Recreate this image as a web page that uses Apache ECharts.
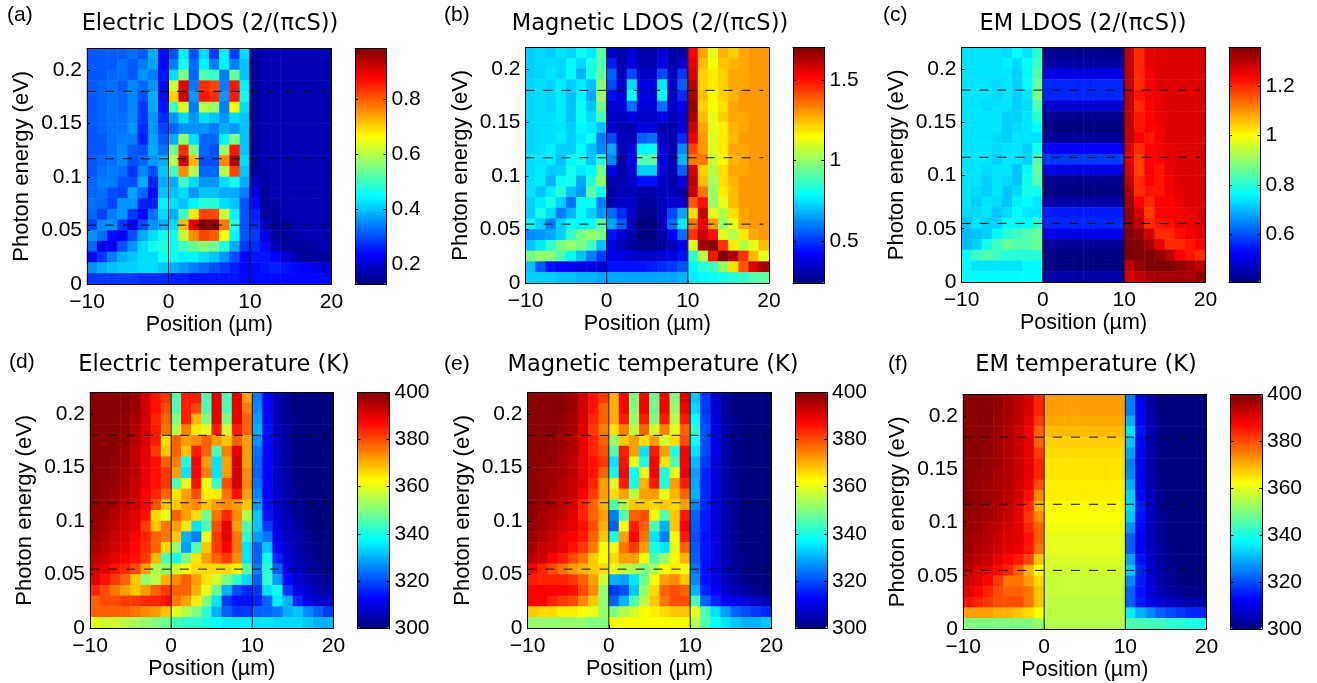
<!DOCTYPE html>
<html><head><meta charset="utf-8">
<script src="https://cdn.jsdelivr.net/npm/echarts@6/dist/echarts.min.js"></script>
<style>html,body{margin:0;background:#fff}#c{width:1317px;height:683px}</style></head>
<body><div id="c"></div>
<script>
const positions=[-9.375,-8.125,-6.875,-5.625,-4.375,-3.125,-1.875,-0.625,0.625,1.875,3.125,4.375,5.625,6.875,8.125,9.375,10.625,11.875,13.125,14.375,15.625,16.875,18.125,19.375];
const energies=[.215,.205,.195,.185,.175,.165,.155,.145,.135,.125,.115,.105,.095,.085,.075,.065,.055,.045,.035,.025,.015,.005];
const xTicks=[-10,0,10,20];
const yTicks=[0,.05,.1,.15,.2];
const interfaces=[0,10];
const resonances=[.055,.117,.18];
const titles=['Electric LDOS (2/(πcS))','Magnetic LDOS (2/(πcS))','EM LDOS (2/(πcS))','Electric temperature (K)','Magnetic temperature (K)','EM temperature (K)'];
const panelTags=['(a)','(b)','(c)','(d)','(e)','(f)'];
const scaleRanges=[[.127,.985],[.2375,1.704],[.406,1.358],[300,400],[300,400],[300,400]];
const scaleTicks=[[.2,.4,.6,.8],[.5,1,1.5],[.6,.8,1,1.2],[300,320,340,360,380,400],[300,320,340,360,380,400],[300,320,340,360,380,400]];
const jet=['#00007f','#0000ff','#007fff','#00ffff','#7fff7f','#ffff00','#ff7f00','#ff0000','#7f0000'];

const electricLdos=[
[.31,.31,.31,.31,.33,.31,.38,.24,.30,.44,.30,.42,.28,.44,.28,.42,.16,.17,.17,.17,.17,.17,.17,.17],
[.31,.31,.31,.33,.31,.34,.37,.24,.34,.47,.32,.44,.34,.44,.34,.40,.15,.17,.17,.17,.17,.17,.17,.17],
[.31,.31,.32,.33,.31,.36,.34,.25,.42,.56,.32,.52,.50,.34,.54,.40,.15,.17,.17,.17,.17,.17,.17,.17],
[.31,.32,.33,.31,.35,.32,.36,.24,.62,.90,.34,.84,.82,.34,.86,.44,.15,.17,.17,.17,.17,.17,.17,.17],
[.31,.32,.33,.32,.35,.30,.38,.24,.70,.92,.36,.86,.84,.36,.86,.46,.15,.17,.17,.17,.17,.17,.17,.17],
[.31,.32,.33,.32,.35,.28,.38,.25,.50,.64,.34,.60,.58,.34,.66,.42,.15,.17,.17,.17,.17,.17,.17,.17],
[.31,.32,.33,.33,.35,.28,.36,.27,.36,.42,.36,.42,.40,.36,.42,.40,.15,.17,.17,.17,.17,.17,.17,.17],
[.31,.32,.33,.33,.36,.27,.36,.29,.32,.36,.36,.36,.34,.38,.36,.40,.15,.17,.17,.17,.17,.17,.17,.17],
[.31,.31,.33,.34,.34,.26,.37,.31,.38,.58,.42,.32,.32,.44,.56,.40,.15,.17,.17,.17,.17,.17,.17,.17],
[.31,.31,.33,.35,.31,.30,.38,.33,.54,.84,.56,.32,.30,.58,.86,.40,.15,.17,.17,.17,.17,.17,.17,.17],
[.31,.32,.33,.35,.30,.32,.36,.38,.60,.92,.72,.30,.30,.76,.94,.42,.15,.17,.17,.17,.17,.17,.17,.17],
[.31,.33,.34,.33,.28,.35,.30,.40,.50,.76,.60,.32,.32,.60,.82,.40,.15,.16,.17,.17,.17,.17,.17,.17],
[.32,.34,.34,.30,.30,.38,.26,.38,.38,.50,.42,.36,.36,.42,.46,.38,.18,.16,.17,.17,.17,.17,.17,.17],
[.32,.33,.30,.29,.37,.32,.24,.40,.40,.42,.36,.40,.40,.38,.38,.34,.21,.15,.17,.17,.17,.17,.17,.17],
[.33,.32,.29,.36,.36,.26,.26,.44,.42,.40,.44,.48,.48,.42,.40,.30,.24,.15,.16,.17,.17,.17,.17,.17],
[.32,.29,.34,.36,.28,.24,.33,.42,.38,.50,.68,.82,.82,.62,.44,.30,.26,.15,.15,.17,.17,.17,.17,.17],
[.29,.35,.36,.28,.22,.30,.36,.38,.42,.72,.90,.98,.98,.78,.48,.30,.27,.18,.15,.15,.17,.17,.17,.17],
[.36,.33,.24,.22,.30,.38,.42,.46,.46,.62,.76,.82,.80,.66,.44,.30,.28,.21,.15,.15,.16,.17,.17,.17],
[.32,.22,.22,.30,.36,.42,.46,.48,.46,.50,.54,.56,.54,.48,.38,.28,.27,.24,.18,.15,.15,.15,.16,.17],
[.24,.28,.34,.38,.40,.42,.42,.46,.46,.44,.44,.42,.40,.36,.30,.24,.25,.25,.23,.20,.17,.15,.15,.15],
[.36,.38,.40,.41,.41,.42,.42,.40,.38,.36,.34,.32,.30,.28,.26,.24,.24,.25,.26,.25,.24,.23,.21,.20],
[.28,.28,.28,.28,.28,.27,.27,.27,.26,.26,.25,.25,.25,.25,.25,.24,.24,.24,.24,.24,.24,.24,.24,.24]];

const magneticLdos=[
[.72,.73,.72,.75,.73,.80,.76,.92,.34,.30,.36,.30,.30,.36,.30,.30,1.52,1.28,1.12,1.26,1.22,1.28,1.30,1.30],
[.72,.73,.74,.73,.78,.73,.82,.90,.46,.30,.38,.30,.30,.38,.30,.36,1.55,1.25,1.15,1.24,1.26,1.28,1.30,1.30],
[.72,.73,.75,.73,.78,.68,.82,.92,.56,.32,.52,.34,.34,.52,.32,.50,1.58,1.22,1.18,1.22,1.28,1.28,1.30,1.30],
[.73,.74,.73,.76,.72,.76,.70,.98,.52,.34,.74,.38,.38,.76,.34,.56,1.62,1.22,1.18,1.22,1.28,1.28,1.30,1.30],
[.73,.74,.73,.76,.70,.78,.66,1.02,.44,.36,.80,.38,.38,.80,.34,.48,1.65,1.25,1.15,1.22,1.26,1.30,1.30,1.30],
[.73,.74,.73,.76,.70,.80,.70,.96,.36,.36,.58,.36,.36,.58,.34,.40,1.68,1.22,1.15,1.20,1.28,1.30,1.30,1.30],
[.73,.74,.74,.76,.70,.80,.74,.88,.34,.32,.38,.34,.34,.38,.32,.36,1.65,1.25,1.12,1.22,1.28,1.28,1.30,1.30],
[.73,.74,.74,.75,.72,.78,.76,.70,.36,.30,.30,.38,.38,.30,.30,.38,1.60,1.28,1.12,1.18,1.26,1.28,1.30,1.30],
[.73,.74,.74,.76,.72,.76,.80,.60,.52,.32,.32,.56,.58,.32,.30,.48,1.55,1.30,1.10,1.18,1.25,1.30,1.30,1.30],
[.73,.74,.76,.72,.72,.80,.70,.62,.66,.32,.36,.78,.80,.36,.30,.62,1.42,1.30,1.10,1.18,1.28,1.28,1.30,1.30],
[.74,.75,.76,.70,.78,.82,.70,.84,.62,.30,.40,.90,.92,.40,.30,.68,1.35,1.35,1.08,1.16,1.26,1.28,1.30,1.30],
[.74,.76,.72,.72,.82,.76,.78,.96,.42,.30,.36,.72,.72,.36,.30,.56,1.58,1.22,1.05,1.20,1.28,1.28,1.30,1.30],
[.74,.76,.68,.80,.82,.66,.84,1.00,.32,.30,.34,.44,.44,.34,.30,.38,1.62,1.25,1.02,1.20,1.26,1.30,1.30,1.30],
[.75,.70,.76,.84,.70,.64,.92,.80,.30,.32,.32,.30,.30,.32,.32,.30,1.60,1.35,1.00,1.18,1.25,1.30,1.30,1.30],
[.72,.76,.82,.72,.58,.80,.80,.60,.30,.34,.34,.28,.28,.32,.36,.36,1.40,1.50,1.00,1.12,1.25,1.30,1.30,1.30],
[.72,.82,.74,.60,.68,.80,.72,.64,.58,.48,.34,.26,.26,.32,.52,.66,1.20,1.60,1.12,1.05,1.20,1.28,1.30,1.30],
[.80,.72,.60,.72,.80,.78,.80,.92,.66,.56,.32,.24,.24,.32,.58,.76,1.35,1.55,1.30,1.00,1.12,1.28,1.30,1.30],
[.62,.64,.66,.72,.86,.96,1.00,.96,.44,.34,.30,.24,.24,.30,.40,.58,1.45,1.60,1.50,1.12,1.04,1.18,1.28,1.30],
[.70,.76,.86,.96,1.00,.96,.88,.70,.38,.32,.28,.26,.26,.28,.32,.40,1.10,1.65,1.70,1.45,1.18,1.05,1.12,1.25],
[.96,1.00,.98,.90,.80,.70,.60,.50,.40,.38,.36,.34,.34,.36,.38,.44,.85,1.05,1.50,1.70,1.65,1.45,1.25,1.12],
[.70,.55,.45,.42,.40,.38,.38,.36,.44,.44,.44,.44,.46,.48,.50,.54,.78,.85,.88,1.00,1.20,1.40,1.58,1.65],
[.72,.72,.72,.70,.70,.68,.68,.66,.66,.66,.66,.66,.66,.66,.66,.68,.76,.78,.80,.82,.84,.86,.90,.92]];

const emLdos=[
[.74,.74,.74,.74,.73,.76,.74,.80,.42,.42,.42,.42,.42,.42,.42,.42,1.30,1.20,1.26,1.27,1.27,1.27,1.27,1.27],
[.74,.74,.74,.74,.75,.73,.76,.82,.44,.44,.44,.44,.44,.44,.44,.44,1.30,1.20,1.26,1.27,1.27,1.27,1.27,1.27],
[.74,.74,.74,.74,.74,.72,.76,.84,.50,.50,.50,.50,.50,.50,.50,.50,1.30,1.20,1.25,1.27,1.27,1.27,1.27,1.27],
[.74,.74,.74,.73,.74,.72,.76,.86,.56,.56,.56,.56,.56,.56,.56,.56,1.30,1.20,1.25,1.27,1.27,1.27,1.27,1.27],
[.74,.74,.74,.73,.74,.72,.74,.88,.56,.56,.56,.56,.56,.56,.56,.56,1.30,1.22,1.25,1.26,1.27,1.27,1.27,1.27],
[.74,.74,.73,.74,.74,.72,.73,.84,.48,.48,.48,.48,.48,.48,.48,.48,1.30,1.20,1.24,1.26,1.27,1.27,1.27,1.27],
[.74,.74,.74,.74,.72,.72,.74,.80,.42,.42,.42,.42,.42,.42,.42,.42,1.30,1.22,1.24,1.26,1.27,1.27,1.27,1.27],
[.74,.74,.74,.74,.72,.73,.74,.76,.41,.41,.41,.41,.41,.41,.41,.41,1.30,1.22,1.24,1.25,1.27,1.27,1.27,1.27],
[.74,.74,.74,.73,.72,.74,.74,.74,.43,.43,.43,.43,.43,.43,.43,.43,1.30,1.24,1.22,1.25,1.27,1.27,1.27,1.27],
[.74,.74,.74,.73,.74,.74,.72,.78,.52,.52,.52,.52,.52,.52,.52,.52,1.28,1.20,1.24,1.25,1.26,1.27,1.27,1.27],
[.74,.74,.74,.72,.74,.74,.72,.84,.58,.58,.58,.58,.58,.58,.58,.58,1.26,1.18,1.24,1.24,1.26,1.27,1.27,1.27],
[.74,.74,.73,.74,.74,.71,.76,.86,.50,.50,.50,.50,.50,.50,.50,.50,1.28,1.18,1.24,1.22,1.26,1.27,1.27,1.27],
[.74,.74,.72,.74,.73,.71,.78,.84,.42,.42,.42,.42,.42,.42,.42,.42,1.30,1.20,1.24,1.22,1.25,1.27,1.27,1.27],
[.74,.73,.72,.74,.71,.73,.78,.78,.41,.41,.41,.41,.41,.41,.41,.41,1.32,1.20,1.22,1.22,1.25,1.26,1.27,1.27],
[.74,.72,.74,.73,.71,.75,.76,.74,.44,.44,.44,.44,.44,.44,.44,.44,1.33,1.24,1.20,1.24,1.24,1.26,1.27,1.27],
[.73,.73,.74,.71,.73,.76,.74,.74,.55,.55,.55,.55,.55,.55,.55,.55,1.34,1.28,1.18,1.24,1.24,1.25,1.26,1.27],
[.71,.74,.72,.72,.76,.76,.76,.80,.56,.56,.56,.56,.56,.56,.56,.56,1.34,1.30,1.20,1.22,1.23,1.25,1.26,1.27],
[.70,.71,.72,.76,.80,.82,.84,.86,.50,.50,.50,.50,.50,.50,.50,.50,1.36,1.34,1.28,1.20,1.20,1.23,1.25,1.26],
[.70,.72,.78,.82,.86,.84,.84,.86,.43,.43,.43,.43,.43,.43,.43,.43,1.37,1.36,1.32,1.26,1.20,1.20,1.22,1.24],
[.76,.82,.84,.82,.80,.80,.80,.80,.41,.41,.41,.41,.41,.41,.41,.41,1.36,1.37,1.36,1.34,1.30,1.24,1.22,1.20],
[.76,.74,.74,.74,.74,.74,.76,.76,.41,.41,.41,.41,.41,.41,.41,.41,1.30,1.34,1.36,1.36,1.36,1.34,1.32,1.30],
[.76,.76,.76,.76,.76,.76,.76,.76,.44,.44,.44,.44,.44,.44,.44,.44,1.28,1.30,1.32,1.32,1.32,1.32,1.32,1.34]];

const electricTemp=[
[399,399,399,399,397,392,386,382,345,385,385,345,390,345,390,372,325,312,305,302,300,300,300,300],
[399,399,399,399,397,392,386,380,345,385,380,345,390,345,390,375,326,312,305,302,300,300,300,300],
[399,399,399,398,396,392,384,378,350,385,370,350,390,350,390,378,328,313,305,302,301,300,300,300],
[399,399,399,398,395,391,385,376,355,375,365,360,385,358,385,378,330,314,306,303,301,300,300,300],
[399,399,399,398,395,391,385,366,378,372,374,378,372,368,378,372,327,313,306,303,301,300,300,300],
[399,399,399,397,394,390,382,368,378,368,385,378,345,375,390,372,324,312,306,303,301,300,300,300],
[399,399,398,397,394,390,386,378,375,340,388,372,335,372,392,372,323,312,306,303,301,300,300,300],
[399,399,398,396,394,390,386,382,372,335,388,375,335,372,392,374,322,312,306,303,301,300,300,300],
[399,398,398,396,393,390,386,382,345,360,386,362,342,380,392,374,324,312,306,304,301,300,300,300],
[399,398,397,395,393,388,384,378,365,372,380,364,364,376,386,372,326,312,307,304,302,300,300,300],
[398,398,396,394,392,388,380,368,368,372,374,368,372,374,372,368,328,313,307,304,302,300,300,300],
[398,397,395,393,390,386,366,360,378,372,366,348,376,384,374,355,332,314,308,305,302,301,300,300],
[398,396,394,392,390,382,368,376,372,365,335,345,380,390,372,345,332,318,309,306,303,301,300,300],
[397,395,393,391,388,384,378,376,368,330,325,360,382,390,376,342,328,324,310,306,304,302,300,300],
[396,394,392,390,387,383,378,366,352,328,345,368,382,388,376,335,322,332,312,307,304,302,301,300],
[394,392,390,388,386,382,370,345,340,350,365,372,378,382,374,335,322,338,316,308,305,303,301,300],
[392,390,386,384,380,372,355,352,358,362,366,366,366,366,364,346,325,342,322,310,306,304,302,301],
[390,386,382,378,368,352,356,370,374,378,372,365,358,350,342,334,322,342,328,313,308,305,303,302],
[384,380,376,372,368,372,378,382,378,378,370,360,348,330,320,316,318,335,338,318,310,308,305,304],
[378,380,380,382,382,384,384,386,376,372,364,350,335,318,314,314,316,322,336,330,316,310,308,307],
[378,378,378,378,376,374,372,368,360,355,350,342,330,322,318,318,322,322,324,330,332,326,322,318],
[360,358,358,356,354,352,350,348,344,342,342,340,338,336,336,336,335,335,334,334,334,332,330,330]];

const magneticTemp=[
[399,399,399,399,397,392,386,382,370,388,350,388,348,388,350,390,332,318,308,303,300,300,300,300],
[399,399,399,399,397,392,386,378,370,388,350,388,348,388,352,388,334,318,308,303,300,300,300,300],
[399,399,399,398,396,392,384,378,370,385,352,385,350,385,355,385,338,319,309,303,301,300,300,300],
[399,399,399,398,396,390,382,375,365,375,355,378,358,375,360,378,342,320,310,304,301,300,300,300],
[399,399,398,397,395,390,384,378,352,368,372,366,372,358,366,380,338,320,310,304,301,300,300,300],
[399,399,398,397,395,390,384,380,345,385,372,335,385,372,340,388,335,320,310,304,301,300,300,300],
[399,398,398,396,394,390,386,382,335,386,360,340,388,365,345,388,331,318,309,304,301,300,300,300],
[399,398,397,396,394,390,386,378,338,388,338,360,388,340,360,390,328,316,309,304,301,300,300,300],
[399,398,397,395,393,390,384,372,360,385,340,370,385,340,372,385,329,316,309,304,302,300,300,300],
[399,398,396,395,393,388,382,372,366,372,355,372,372,360,370,378,330,316,309,304,302,300,300,300],
[398,397,396,394,391,384,378,370,345,355,368,368,366,368,366,372,326,316,309,305,302,300,300,300],
[398,396,395,393,390,384,378,372,325,345,378,380,362,345,368,385,322,315,309,305,302,300,300,300],
[398,396,394,392,390,386,380,370,322,362,385,378,345,330,368,388,321,315,309,305,302,300,300,300],
[397,395,393,390,388,385,378,368,340,372,388,376,335,325,362,385,320,314,309,305,302,300,300,300],
[396,393,392,390,386,382,376,362,362,376,382,372,340,335,360,378,321,314,309,305,302,300,300,300],
[394,392,388,385,380,376,368,362,366,372,372,362,345,352,362,370,322,314,309,305,302,301,300,300],
[388,384,380,376,372,370,368,366,360,356,354,350,354,362,364,362,324,314,309,305,303,301,300,300],
[385,384,384,384,382,378,372,358,330,328,335,348,362,372,374,368,326,314,310,306,303,301,300,300],
[388,388,388,388,386,380,374,352,318,320,332,352,366,378,380,378,330,316,312,308,305,303,302,301],
[388,388,384,382,380,374,368,352,322,330,345,356,368,376,380,380,344,322,316,312,310,308,306,305],
[368,366,366,364,364,362,360,352,350,355,358,362,364,366,368,368,360,345,335,328,322,320,318,316],
[352,352,352,352,352,352,350,350,362,362,362,362,362,362,362,362,355,345,338,335,332,330,330,332]];

const emTemp=[
[399,399,399,398,396,394,391,384,372,372,372,372,372,372,372,372,325,310,303,300,300,300,300,300],
[399,399,399,398,396,394,391,384,372,372,372,372,372,372,372,372,325,311,303,300,300,300,300,300],
[399,399,399,397,396,394,390,382,371,371,371,371,371,371,371,371,330,312,304,301,300,300,300,300],
[399,399,399,397,395,393,389,378,369,369,369,369,369,369,369,369,335,314,305,301,300,300,300,300],
[399,399,398,397,395,393,390,378,367,367,367,367,367,367,367,367,332,313,304,301,300,300,300,300],
[399,399,398,397,395,393,390,382,366,366,366,366,366,366,366,366,328,311,304,301,300,300,300,300],
[399,399,398,397,395,393,390,384,365,365,365,365,365,365,365,365,325,311,304,301,300,300,300,300],
[399,398,398,396,395,393,390,384,365,365,365,365,365,365,365,365,326,311,304,301,300,300,300,300],
[399,398,397,396,395,392,389,380,364,364,364,364,364,364,364,364,330,312,304,301,300,300,300,300],
[399,398,397,396,394,392,386,374,364,364,364,364,364,364,364,364,333,313,305,302,300,300,300,300],
[399,398,397,395,394,390,384,370,363,363,363,363,363,363,363,363,334,315,306,302,300,300,300,300],
[398,397,396,395,393,390,382,374,362,362,362,362,362,362,362,362,332,314,306,302,300,300,300,300],
[398,397,395,394,392,390,384,378,361,361,361,361,361,361,361,361,327,313,306,302,300,300,300,300],
[397,396,395,393,391,390,386,378,360,360,360,360,360,360,360,360,322,312,306,302,300,300,300,300],
[397,395,394,392,390,389,385,376,360,360,360,360,360,360,360,360,322,312,306,303,301,300,300,300],
[396,394,393,390,388,385,380,368,359,359,359,359,359,359,359,359,328,314,307,303,301,300,300,300],
[394,392,390,387,384,378,370,362,358,358,358,358,358,358,358,358,332,316,308,304,302,300,300,300],
[392,390,387,382,376,376,372,366,357,357,357,357,357,357,357,357,326,315,308,304,302,301,300,300],
[390,387,384,380,378,378,376,368,357,357,357,357,357,357,357,357,322,314,308,305,303,302,301,301],
[386,384,382,380,380,380,376,368,356,356,356,356,356,356,356,356,322,315,310,308,306,305,304,304],
[372,372,372,370,370,368,366,362,356,356,356,356,356,356,356,356,336,330,326,322,320,318,316,316],
[350,350,350,350,350,350,350,352,355,355,355,355,355,355,355,355,345,345,344,344,342,342,340,340]];

const panels=[electricLdos,magneticLdos,emLdos,electricTemp,magneticTemp,emTemp];
// layout in page pixels: plot box, colour bar box, title centre, tag position
const layout=[
 {l:87,r:331.5,t:48.5,b:284,cl:355,cr:386.5,tx:210,ty:13,px:7,py:5},
 {l:525.5,r:769,t:47.5,b:283,cl:793,cr:824.5,tx:650,ty:13,px:444,py:5},
 {l:961.5,r:1205.5,t:47.5,b:282,cl:1229,cr:1260.5,tx:1083,ty:13,px:883,py:5},
 {l:90,r:333.5,t:392.5,b:628,cl:357.5,cr:389.5,tx:214,ty:354,px:9,py:352},
 {l:527.5,r:771.5,t:392.5,b:628,cl:795.5,cr:827,tx:653,ty:354,px:444,py:354},
 {l:963,r:1206.5,t:394.5,b:629,cl:1230.5,cr:1262,tx:1086,ty:354,px:888,py:354}];

const FONT='"Liberation Sans"';
const opt={animation:false,backgroundColor:'#fff',title:[],grid:[],xAxis:[],yAxis:[],visualMap:[],series:[]};
const line={show:true,onZero:false,lineStyle:{color:'#000',width:1}};
const fmt=v=>String(+(+v).toFixed(3)).replace('-','\u2212');
panels.forEach((m,p)=>{
  const L=layout[p];
  opt.title.push({text:titles[p],left:L.tx,top:L.ty,textAlign:'center',padding:0,textStyle:{fontFamily:'"DejaVu Sans"',fontSize:22.5,fontWeight:'normal',color:'#000'}});
  opt.title.push({text:panelTags[p],left:L.px,top:L.py,padding:0,textStyle:{fontFamily:FONT,fontSize:21,fontWeight:'normal',color:'#000'}});
  const g=opt.grid.length;
  opt.grid.push({left:L.l,top:L.t,width:L.r-L.l,height:L.b-L.t,containLabel:false});
  opt.grid.push({left:L.cl,top:L.t,width:L.cr-L.cl,height:L.b-L.t,containLabel:false});
  const x0=opt.xAxis.length,y0=opt.yAxis.length;
  // hidden band axes carry the cells; they also draw the top and right of the box
  opt.xAxis.push({type:'category',gridIndex:g,position:'top',data:positions,axisLine:line,axisTick:{show:false},axisLabel:{show:false},splitLine:{show:false},z:10});
  opt.yAxis.push({type:'category',gridIndex:g,position:'right',data:energies.slice().reverse(),axisLine:line,axisTick:{show:false},axisLabel:{show:false},splitLine:{show:false},z:10});
  // visible value axes
  opt.xAxis.push({type:'value',gridIndex:g,position:'bottom',min:-10,max:20,axisLine:line,splitLine:{show:false},z:10,
    axisTick:{show:true,inside:true,length:3,lineStyle:{color:'#000'},customValues:xTicks},
    axisLabel:{show:true,margin:8,color:'#000',fontFamily:FONT,fontSize:21,customValues:xTicks,formatter:fmt},
    name:'Position (\u00b5m)',nameLocation:'middle',nameGap:30,nameTextStyle:{color:'#000',fontFamily:FONT,fontSize:21.5}});
  opt.yAxis.push({type:'value',gridIndex:g,position:'left',min:0,max:.22,axisLine:line,splitLine:{show:false},z:10,
    axisTick:{show:true,inside:true,length:3,lineStyle:{color:'#000'},customValues:yTicks},
    axisLabel:{show:true,margin:5,color:'#000',fontFamily:FONT,fontSize:21,customValues:yTicks,formatter:fmt},
    name:'Photon energy (eV)',nameLocation:'middle',nameGap:54,nameTextStyle:{color:'#000',fontFamily:FONT,fontSize:22}});
  // colour bar frame and scale
  const [lo,hi]=scaleRanges[p];
  const plain={axisTick:{show:false},axisLabel:{show:false},splitLine:{show:false},axisLine:line,z:10};
  opt.xAxis.push({type:'value',gridIndex:g+1,position:'bottom',min:0,max:1,...plain});
  opt.xAxis.push({type:'value',gridIndex:g+1,position:'top',min:0,max:1,...plain});
  opt.yAxis.push({type:'value',gridIndex:g+1,position:'right',min:lo,max:hi,axisLine:line,splitLine:{show:false},z:10,
    axisTick:{show:true,inside:true,length:3,lineStyle:{color:'#000'},customValues:scaleTicks[p]},
    axisLabel:{show:true,margin:5,color:'#000',fontFamily:FONT,fontSize:21,customValues:scaleTicks[p],formatter:fmt}});
  opt.yAxis.push({type:'value',gridIndex:g+1,position:'left',min:lo,max:hi,axisLine:line,splitLine:{show:false},z:10,
    axisTick:{show:true,inside:true,length:3,lineStyle:{color:'#000'},customValues:scaleTicks[p]},axisLabel:{show:false}});
  const data=[];
  m.forEach((row,r)=>row.forEach((v,c)=>data.push([c,energies.length-1-r,v])));
  const sIdx=opt.series.length;
  opt.series.push({type:'heatmap',xAxisIndex:x0,yAxisIndex:y0,data,silent:true,progressive:0,itemStyle:{borderWidth:0},emphasis:{disabled:true},z:2});
  opt.visualMap.push({type:'continuous',seriesIndex:sIdx,dimension:2,min:lo,max:hi,show:true,calculable:false,hoverLink:false,
    left:L.cl,top:L.t,itemWidth:L.cr-L.cl,itemHeight:L.b-L.t,padding:0,text:null,inRange:{color:jet},z:4});
  const solid=[];interfaces.forEach(x=>{solid.push([x,0],[x,.22],[null,null]);});
  const dashed=[];resonances.forEach(e=>{dashed.push([-10,e],[19.3,e],[null,null]);});
  opt.series.push({type:'line',xAxisIndex:x0+1,yAxisIndex:y0+1,data:solid,showSymbol:false,silent:true,connectNulls:false,lineStyle:{color:'#111',width:1},z:5});
  opt.series.push({type:'line',xAxisIndex:x0+1,yAxisIndex:y0+1,data:dashed,showSymbol:false,silent:true,connectNulls:false,lineStyle:{color:'#111',width:1,type:[9,9]},z:5});
});
const chart=echarts.init(document.getElementById('c'),null,{renderer:'canvas'});
chart.setOption(opt);
</script></body></html>
